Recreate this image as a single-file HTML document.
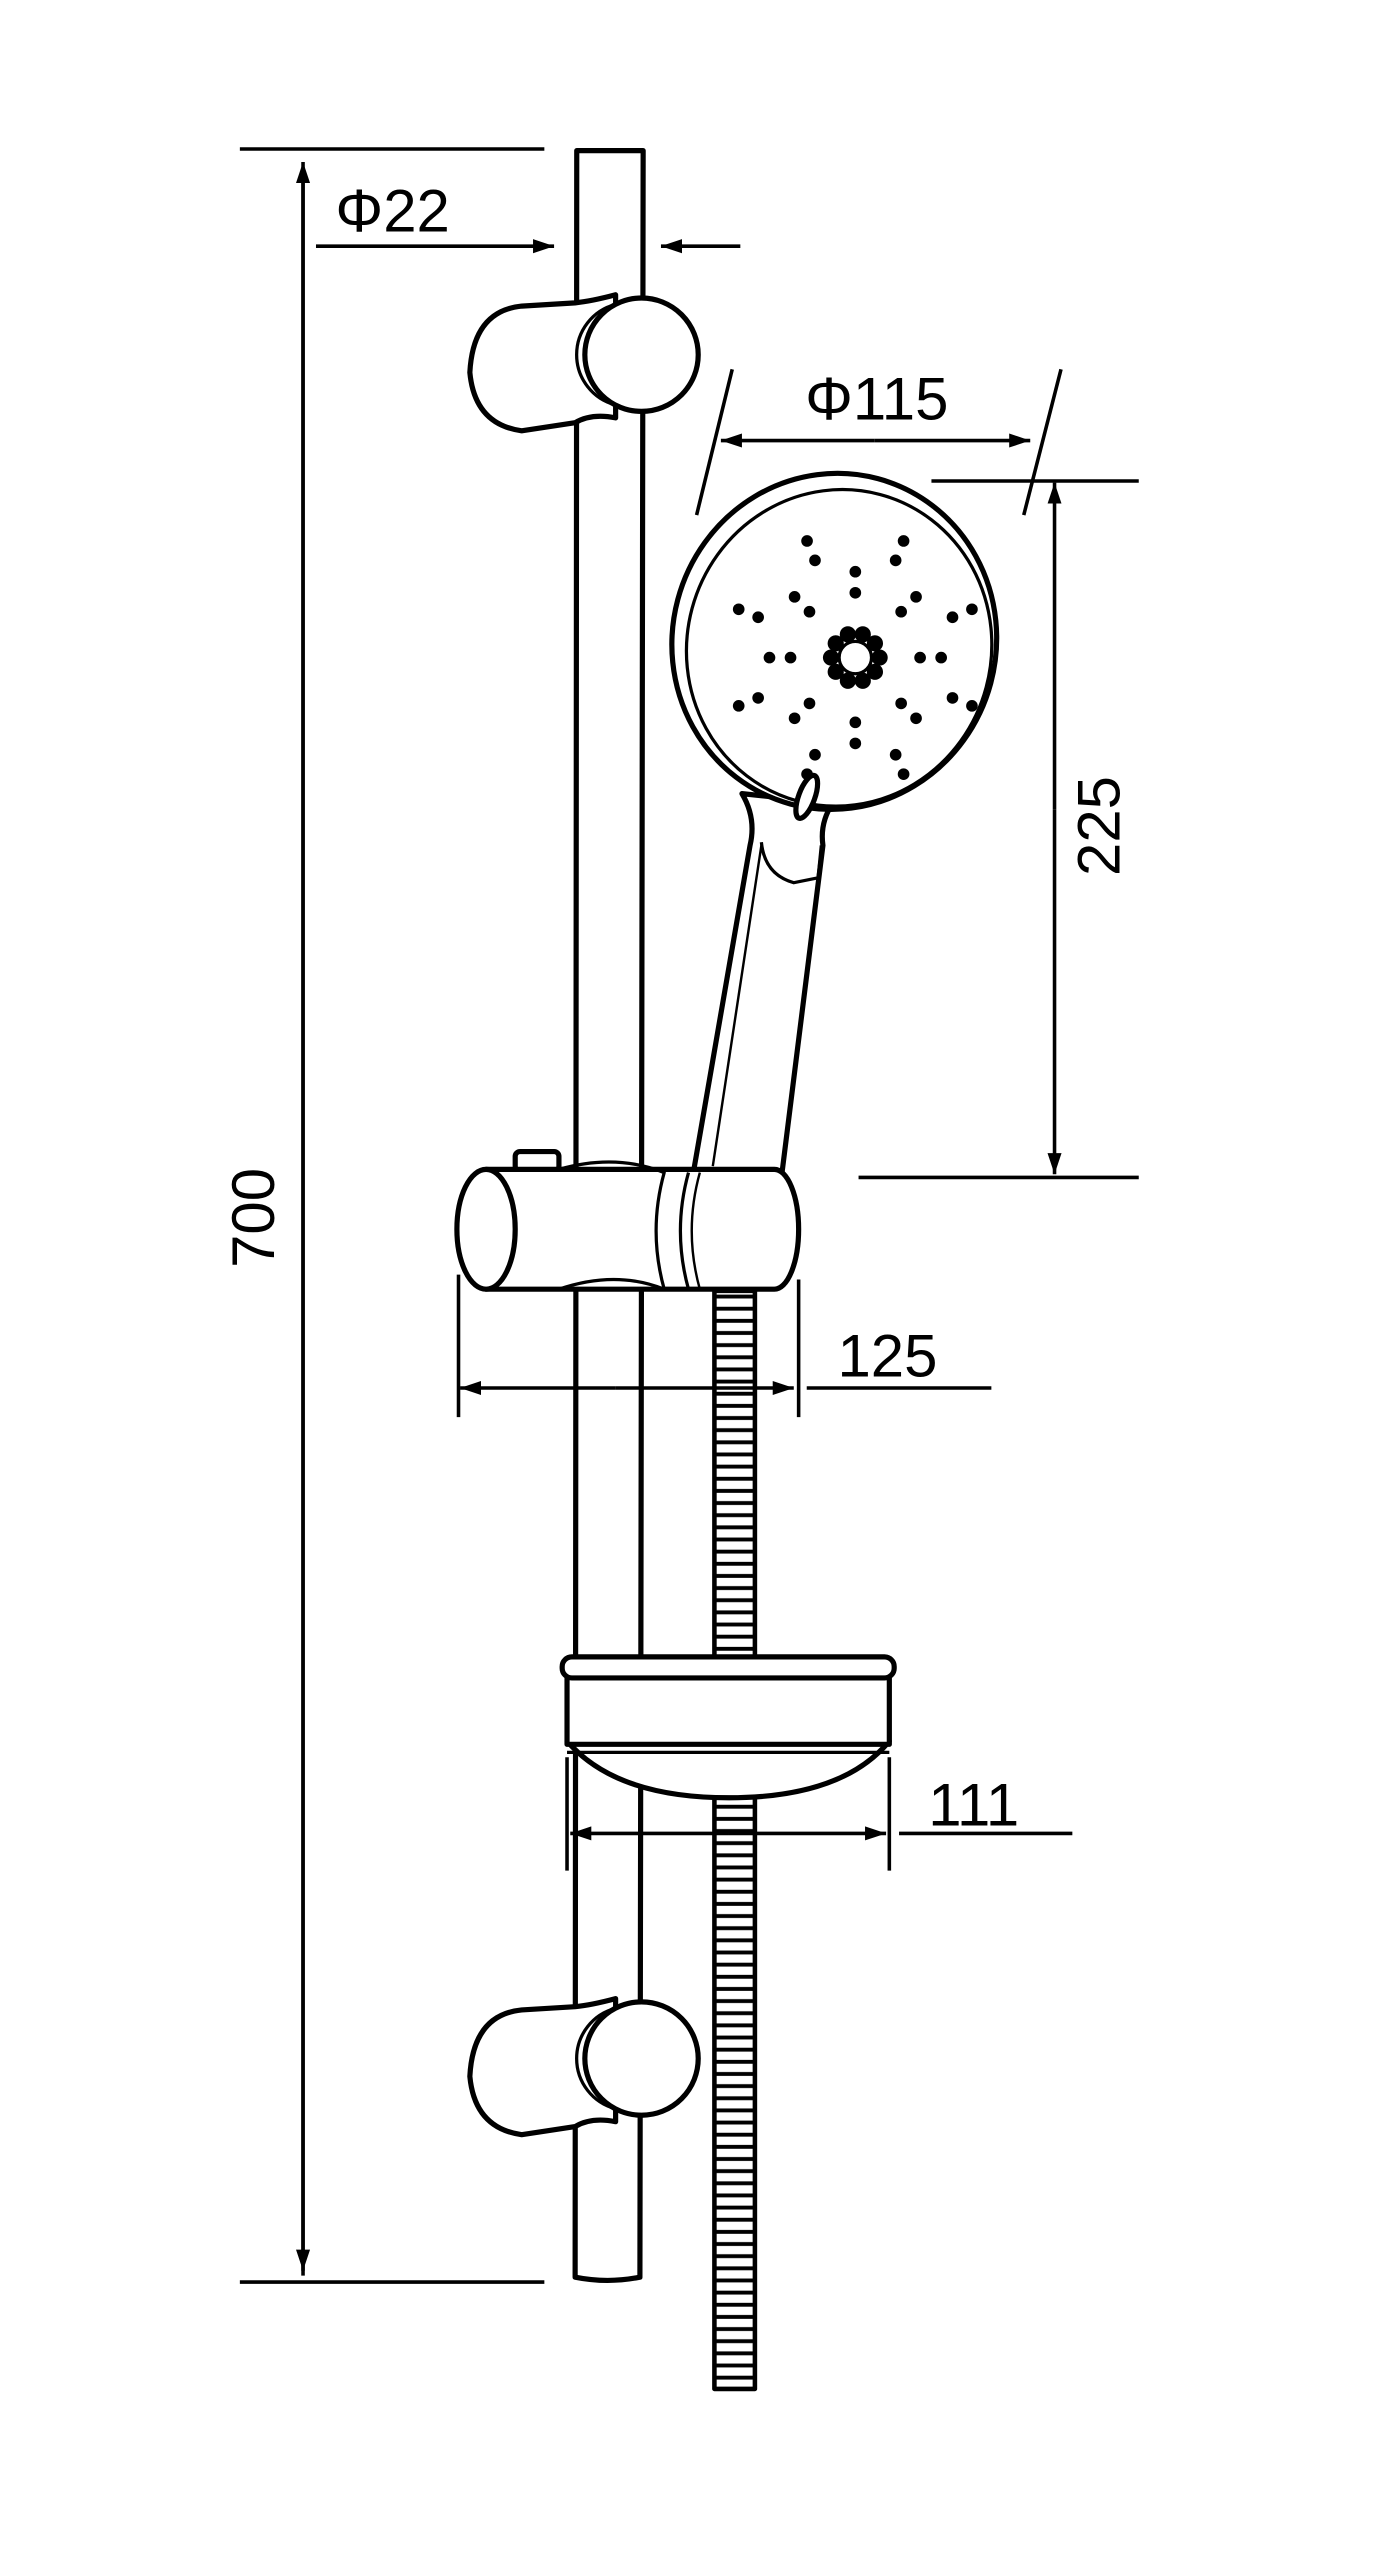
<!DOCTYPE html>
<html><head><meta charset="utf-8"><style>html,body{margin:0;padding:0;background:#fff}svg{display:block}</style></head>
<body>
<svg width="1377" height="2559" viewBox="0 0 850 1580" xmlns="http://www.w3.org/2000/svg" font-family="Liberation Sans, sans-serif">
<defs>
<marker id="a" viewBox="0 0 12 10" refX="12" refY="5" markerWidth="13" markerHeight="11" markerUnits="userSpaceOnUse" orient="auto"><path d="M0,1 L12,5 L0,9 Z" fill="#000"/></marker>
<pattern id="hose" x="0" y="797" width="30" height="7.5" patternUnits="userSpaceOnUse"><line x1="0" y1="3.5" x2="30" y2="3.5" stroke="#000" stroke-width="2.4"/></pattern>
</defs>
<g stroke="#000" stroke-width="3.2" fill="#fff" stroke-linejoin="round">
<!-- hose -->
<rect x="441" y="797" width="25" height="678" fill="url(#hose)" stroke-width="2.8"/>
<!-- rail -->
<path d="M356,93 L397,93 L395,1406 Q375,1410 355,1406 Z"/>
<!-- top bracket -->
<path d="M355,187 L322,189 Q292,192 290,230 Q293,262 322,266 L355,261 Q365,255 380,258 L380,182 Q365,186 355,187 Z"/>
<circle cx="396" cy="219" r="35"/>
<path d="M380,188 A32,32 0 0 0 380,250" fill="none" stroke-width="2"/>
<!-- bottom bracket -->
<path d="M355,1239 L322,1241 Q292,1244 290,1282 Q293,1314 322,1318 L355,1313 Q365,1307 380,1310 L380,1234 Q365,1238 355,1239 Z"/>
<circle cx="396" cy="1271" r="35"/>
<path d="M380,1240 A32,32 0 0 0 380,1302" fill="none" stroke-width="2"/>
<!-- handle -->
<path d="M458,490 Q467,505 463,522 L428,724 L482,730 L508,522 Q506,508 514,496 Z"/>
<path d="M470,522 L440,720" fill="none" stroke-width="1.5"/>
<path d="M470,520 Q472,540 490,545 L505,542 L507,522" fill="none" stroke-width="2"/>
<!-- head -->
<ellipse cx="515" cy="396" rx="100" ry="104" transform="rotate(15 515 396)"/>
<ellipse cx="518" cy="400" rx="94" ry="98" transform="rotate(15 518 400)" fill="none" stroke-width="2"/>
<ellipse cx="498" cy="492" rx="5" ry="14" transform="rotate(20 498 492)"/>
<!-- slider -->
<rect x="318" y="711" width="27" height="12" rx="3"/>
<path d="M300,722 L478,722 A15,37 0 0 1 478,796 L300,796 Z"/>
<ellipse cx="300" cy="759" rx="18" ry="37"/>
<path d="M345,722 Q380,712 410,724 Q400,760 410,796 Q380,784 345,796" fill="none" stroke-width="2"/>
<path d="M425,724 Q415,760 425,796" fill="none" stroke-width="2"/>
<path d="M432,724 Q422,760 432,796" fill="none" stroke-width="1.5"/>
<!-- soap dish -->
<path d="M350,1075 Q380,1110 450,1110 Q520,1110 549,1075 Z"/>
<rect x="350" y="1033" width="199" height="44"/>
<rect x="347" y="1023" width="205" height="13" rx="6"/>
<line x1="350" y1="1082" x2="549" y2="1082" stroke-width="2"/>
</g>
<circle cx="528" cy="406" r="10" fill="none" stroke="#000" stroke-width="2"/>
<g fill="#000" transform="translate(528,406)">
<g>
<circle cx="15" cy="0" r="5"/><circle cx="12.1" cy="8.8" r="5"/><circle cx="4.6" cy="14.3" r="5"/><circle cx="-4.6" cy="14.3" r="5"/><circle cx="-12.1" cy="8.8" r="5"/><circle cx="-15" cy="0" r="5"/><circle cx="-12.1" cy="-8.8" r="5"/><circle cx="-4.6" cy="-14.3" r="5"/><circle cx="4.6" cy="-14.3" r="5"/><circle cx="12.1" cy="-8.8" r="5"/>
</g>
<g>
<circle cx="40" cy="0" r="3.6"/><circle cx="28.3" cy="28.3" r="3.6"/><circle cx="0" cy="40" r="3.6"/><circle cx="-28.3" cy="28.3" r="3.6"/><circle cx="-40" cy="0" r="3.6"/><circle cx="-28.3" cy="-28.3" r="3.6"/><circle cx="0" cy="-40" r="3.6"/><circle cx="28.3" cy="-28.3" r="3.6"/>
<circle cx="53" cy="0" r="3.6"/><circle cx="37.5" cy="37.5" r="3.6"/><circle cx="0" cy="53" r="3.6"/><circle cx="-37.5" cy="37.5" r="3.6"/><circle cx="-53" cy="0" r="3.6"/><circle cx="-37.5" cy="-37.5" r="3.6"/><circle cx="0" cy="-53" r="3.6"/><circle cx="37.5" cy="-37.5" r="3.6"/>
<circle cx="60" cy="24.9" r="3.6"/><circle cx="24.9" cy="60" r="3.6"/><circle cx="-24.9" cy="60" r="3.6"/><circle cx="-60" cy="24.9" r="3.6"/><circle cx="-60" cy="-24.9" r="3.6"/><circle cx="-24.9" cy="-60" r="3.6"/><circle cx="24.9" cy="-60" r="3.6"/><circle cx="60" cy="-24.9" r="3.6"/>
<circle cx="72" cy="29.8" r="3.6"/><circle cx="29.8" cy="72" r="3.6"/><circle cx="-29.8" cy="72" r="3.6"/><circle cx="-72" cy="29.8" r="3.6"/><circle cx="-72" cy="-29.8" r="3.6"/><circle cx="-29.8" cy="-72" r="3.6"/><circle cx="29.8" cy="-72" r="3.6"/><circle cx="72" cy="-29.8" r="3.6"/>
</g>
</g>
<g stroke="#000" stroke-width="2.2" fill="none">
<line x1="148" y1="92" x2="336" y2="92"/>
<line x1="148" y1="1409" x2="336" y2="1409"/>
<line x1="187" y1="1405" x2="187" y2="100" marker-end="url(#a)"/>
<line x1="187" y1="110" x2="187" y2="1402" marker-end="url(#a)"/>
<line x1="195" y1="152" x2="342" y2="152" marker-end="url(#a)"/>
<line x1="457" y1="152" x2="408" y2="152" marker-end="url(#a)"/>
<line x1="452" y1="228" x2="430" y2="318"/>
<line x1="655" y1="228" x2="632" y2="318"/>
<line x1="540" y1="272" x2="445" y2="272" marker-end="url(#a)"/>
<line x1="540" y1="272" x2="636" y2="272" marker-end="url(#a)"/>
<line x1="575" y1="297" x2="703" y2="297"/>
<line x1="530" y1="727" x2="703" y2="727"/>
<line x1="651" y1="500" x2="651" y2="298" marker-end="url(#a)"/>
<line x1="651" y1="500" x2="651" y2="725" marker-end="url(#a)"/>
<line x1="283" y1="787" x2="283" y2="875"/>
<line x1="493" y1="790" x2="493" y2="875"/>
<line x1="380" y1="857" x2="284" y2="857" marker-end="url(#a)"/>
<line x1="380" y1="857" x2="490" y2="857" marker-end="url(#a)"/>
<line x1="498" y1="857" x2="612" y2="857"/>
<line x1="350" y1="1085" x2="350" y2="1155"/>
<line x1="549" y1="1085" x2="549" y2="1155"/>
<line x1="450" y1="1132" x2="352" y2="1132" marker-end="url(#a)"/>
<line x1="450" y1="1132" x2="547" y2="1132" marker-end="url(#a)"/>
<line x1="555" y1="1132" x2="662" y2="1132"/>
</g>
<g font-size="37" fill="#000">
<text x="207" y="143">Φ22</text>
<text x="497" y="259">Φ115</text>
<text x="517" y="850">125</text>
<text x="573" y="1127">111</text>
<text transform="translate(169,752) rotate(-90)" text-anchor="middle">700</text>
<text transform="translate(691,510) rotate(-90)" text-anchor="middle">225</text>
</g>
</svg>
</body></html>
